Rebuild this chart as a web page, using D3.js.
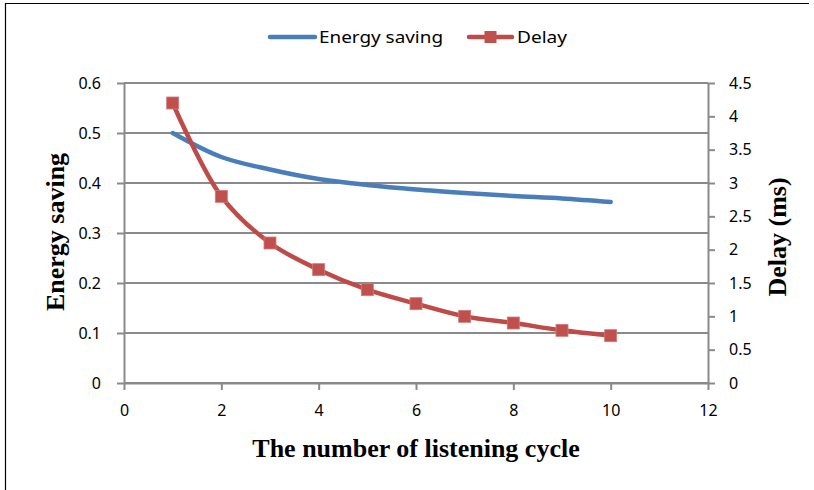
<!DOCTYPE html>
<html>
<head>
<meta charset="utf-8">
<script src="https://cdn.jsdelivr.net/npm/d3@7"></script>
<style>
  html, body { margin: 0; padding: 0; background: #fff; }
  svg { display: block; }
</style>
</head>
<body>
<svg id="chart" width="814" height="490"></svg>
<script>
// Listening cycles on the x axis
const cycles = [1, 2, 3, 4, 5, 6, 7, 8, 9, 10];
// Energy saving ratio (left axis)
const energySaving = [0.5, 0.452, 0.427, 0.408, 0.396, 0.387, 0.380, 0.374, 0.369, 0.362];
// Delay in ms (right axis)
const delayMs = [4.2, 2.8, 2.1, 1.7, 1.4, 1.19, 1.0, 0.9, 0.79, 0.71];

const xTicks = [0, 2, 4, 6, 8, 10, 12];
const leftTicks = [0, 0.1, 0.2, 0.3, 0.4, 0.5, 0.6];
const rightTicks = [0, 0.5, 1, 1.5, 2, 2.5, 3, 3.5, 4, 4.5];

const seriesNames = ["Energy saving", "Delay"];
const xTitle = "The number of listening cycle";
const leftTitle = "Energy saving";
const rightTitle = "Delay (ms)";

const svg = d3.select("#chart");
const W = 814, H = 490;
const plot = { left: 124, right: 708, top: 83, bottom: 383 };

const gridColor = "#8a8a8a";
const blue = "#4A7EBB";
const red = "#BE4B48";
const tickFont = "'Noto Sans', 'Open Sans', sans-serif";
const titleFont = "'Liberation Serif', 'Times New Roman', serif";

// frame around the chart
svg.append("line").attr("x1", 5.5).attr("x2", 5.5).attr("y1", 3).attr("y2", H)
  .attr("stroke", "#000").attr("stroke-width", 1.2);
svg.append("line").attr("x1", 5).attr("x2", 809).attr("y1", 3.5).attr("y2", 3.5)
  .attr("stroke", "#000").attr("stroke-width", 1.2);

const x = d3.scaleLinear().domain([0, 12]).range([plot.left, plot.right]);
const yL = d3.scaleLinear().domain([0, 0.6]).range([plot.bottom, plot.top]);
const yR = d3.scaleLinear().domain([0, 4.5]).range([plot.bottom, plot.top]);

// horizontal gridlines
svg.append("g").selectAll("line").data(leftTicks).join("line")
  .attr("x1", plot.left).attr("x2", plot.right)
  .attr("y1", d => yL(d)).attr("y2", d => yL(d))
  .attr("stroke", gridColor).attr("stroke-width", 2);

function styleAxis(g) {
  g.select(".domain").attr("stroke", gridColor).attr("stroke-width", 2);
  g.selectAll(".tick line").attr("stroke", gridColor).attr("stroke-width", 2);
  g.selectAll(".tick text").attr("fill", "#000")
    .attr("font-family", tickFont).attr("font-size", 16);
}

// bottom axis
svg.append("g").attr("transform", `translate(0,${plot.bottom})`)
  .call(d3.axisBottom(x).tickValues(xTicks).tickFormat(d3.format("d"))
    .tickSizeInner(7).tickSizeOuter(0).tickPadding(15))
  .call(styleAxis);

// left axis
svg.append("g").attr("transform", `translate(${plot.left},0)`)
  .call(d3.axisLeft(yL).tickValues(leftTicks).tickFormat(d => d === 0 ? "0" : d3.format(".1f")(d))
    .tickSizeInner(7).tickSizeOuter(0).tickPadding(16))
  .call(styleAxis);

// right axis
svg.append("g").attr("transform", `translate(${plot.right},0)`)
  .call(d3.axisRight(yR).tickValues(rightTicks).tickFormat(d => String(d))
    .tickSizeInner(7).tickSizeOuter(0).tickPadding(14))
  .call(styleAxis);

const curve = d3.curveCatmullRom.alpha(0.5);

// energy saving line
svg.append("path")
  .datum(cycles.map((c, i) => [c, energySaving[i]]))
  .attr("fill", "none").attr("stroke", blue).attr("stroke-width", 4.5)
  .attr("stroke-linecap", "round")
  .attr("d", d3.line().x(d => x(d[0])).y(d => yL(d[1])).curve(curve));

// delay line with square markers
svg.append("path")
  .datum(cycles.map((c, i) => [c, delayMs[i]]))
  .attr("fill", "none").attr("stroke", red).attr("stroke-width", 4.5)
  .attr("stroke-linecap", "round")
  .attr("d", d3.line().x(d => x(d[0])).y(d => yR(d[1])).curve(curve));

const ms = 12;
svg.append("g").selectAll("rect").data(cycles.map((c, i) => [c, delayMs[i]])).join("rect")
  .attr("x", d => x(d[0]) - ms / 2).attr("y", d => yR(d[1]) - ms / 2)
  .attr("width", ms).attr("height", ms)
  .attr("fill", "#C0504D").attr("stroke", "#D07a78").attr("stroke-width", 0.8);

// legend
const legY = 37;
const leg = svg.append("g");
leg.append("line").attr("x1", 270).attr("x2", 315).attr("y1", legY).attr("y2", legY)
  .attr("stroke", blue).attr("stroke-width", 4.5).attr("stroke-linecap", "round");
leg.append("text").attr("x", 319).attr("y", legY + 6)
  .attr("font-family", tickFont).attr("font-size", 17)
  .attr("textLength", 124).attr("lengthAdjust", "spacingAndGlyphs")
  .text(seriesNames[0]);
leg.append("line").attr("x1", 469).attr("x2", 512).attr("y1", legY).attr("y2", legY)
  .attr("stroke", red).attr("stroke-width", 4.5).attr("stroke-linecap", "round");
leg.append("rect").attr("x", 490.5 - ms / 2).attr("y", legY - ms / 2)
  .attr("width", ms).attr("height", ms).attr("fill", "#C0504D");
leg.append("text").attr("x", 517).attr("y", legY + 6)
  .attr("font-family", tickFont).attr("font-size", 17)
  .attr("textLength", 50).attr("lengthAdjust", "spacingAndGlyphs")
  .text(seriesNames[1]);

// axis titles
svg.append("text").attr("x", 416).attr("y", 457)
  .attr("text-anchor", "middle").attr("font-family", titleFont)
  .attr("font-weight", "bold").attr("font-size", 26)
  .text(xTitle);

svg.append("text").attr("transform", "translate(64,232) rotate(-90)")
  .attr("text-anchor", "middle").attr("font-family", titleFont)
  .attr("font-weight", "bold").attr("font-size", 26)
  .text(leftTitle);

svg.append("text").attr("transform", "translate(786,237) rotate(-90)")
  .attr("text-anchor", "middle").attr("font-family", titleFont)
  .attr("font-weight", "bold").attr("font-size", 26)
  .text(rightTitle);
</script>
</body>
</html>
